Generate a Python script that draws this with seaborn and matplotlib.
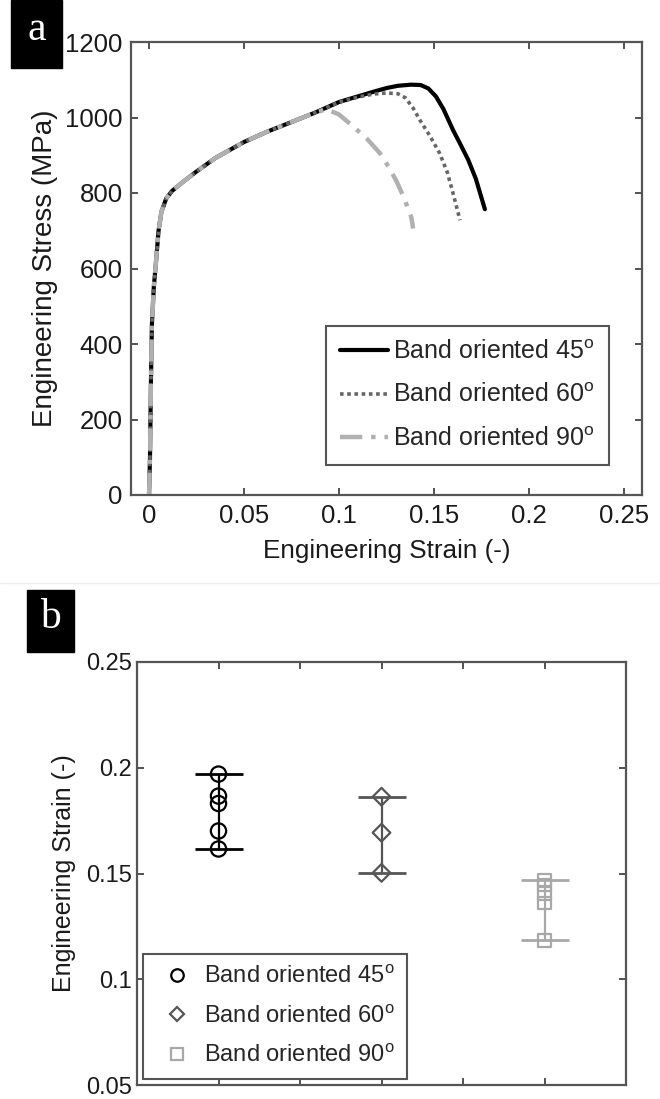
import numpy as np
import pandas as pd
import matplotlib
matplotlib.use("Agg")
import matplotlib.pyplot as plt
import seaborn as sns
from matplotlib.patches import Rectangle
from matplotlib.lines import Line2D
from matplotlib.ticker import FuncFormatter

# ---------------- data: panel (a) stress-strain curves ----------------
strain_45 = [0, 0.0005, 0.001, 0.0015, 0.0025, 0.0037, 0.005, 0.0065, 0.009, 0.012,
             0.018, 0.025, 0.035, 0.05, 0.062, 0.075, 0.087, 0.1, 0.11, 0.118,
             0.125, 0.131, 0.138, 0.143, 0.147, 0.151, 0.155, 0.160, 0.164, 0.168,
             0.172, 0.1768]
stress_45 = [0, 100, 300, 450, 550, 620, 700, 750, 785, 805,
             830, 857, 893, 935, 962, 988, 1012, 1041, 1056, 1068,
             1078, 1084, 1087, 1086, 1077, 1056, 1022, 967, 928, 888,
             838, 757]

strain_60 = [0, 0.0005, 0.001, 0.0015, 0.0025, 0.0037, 0.005, 0.0065, 0.009, 0.012,
             0.018, 0.025, 0.035, 0.05, 0.062, 0.075, 0.087, 0.1, 0.11, 0.118,
             0.125, 0.131, 0.135, 0.139, 0.1426, 0.148, 0.153, 0.157, 0.160, 0.1637]
stress_60 = [0, 100, 300, 450, 550, 620, 700, 750, 785, 805,
             830, 857, 893, 935, 962, 988, 1012, 1041, 1054, 1062,
             1065, 1063, 1052, 1025, 993, 950, 905, 855, 800, 728]

strain_90 = [0, 0.0005, 0.001, 0.0015, 0.0025, 0.0037, 0.005, 0.0065, 0.009, 0.012,
             0.018, 0.025, 0.035, 0.05, 0.062, 0.075, 0.087, 0.0935, 0.1, 0.1075,
             0.115, 0.1216, 0.126, 0.130, 0.134, 0.138, 0.139]
stress_90 = [0, 100, 300, 450, 550, 620, 700, 750, 785, 805,
             830, 857, 893, 935, 962, 988, 1012, 1022, 1008, 976,
             942, 905, 870, 834, 790, 737, 706]

curve_labels = ["Band oriented 45$^{\\mathrm{o}}$",
                "Band oriented 60$^{\\mathrm{o}}$",
                "Band oriented 90$^{\\mathrm{o}}$"]

# ---------------- data: panel (b) fracture strain per orientation ----------------
group_pos = [1, 3, 5]
strain_b_45 = [0.197, 0.1866, 0.1831, 0.1701, 0.1616]
strain_b_60 = [0.1863, 0.1693, 0.1503]
strain_b_90 = [0.147, 0.1445, 0.1405, 0.136, 0.1184]

x_ticks_a = [0, 0.05, 0.1, 0.15, 0.2, 0.25]
y_ticks_a = [0, 200, 400, 600, 800, 1000, 1200]
y_ticks_b = [0.05, 0.1, 0.15, 0.2, 0.25]
x_ticks_b = [1, 2, 3, 4, 5]

# ---------------- style ----------------
sns.set_theme(style="ticks")
plt.rcParams["font.family"] = ["Liberation Sans", "DejaVu Sans"]
plt.rcParams["mathtext.fontset"] = "custom"
plt.rcParams["mathtext.rm"] = "Liberation Sans"
plt.rcParams["mathtext.it"] = "Liberation Sans:italic"
plt.rcParams["axes.edgecolor"] = "#555555"
plt.rcParams["axes.linewidth"] = 1.6
plt.rcParams["xtick.color"] = "#444444"
plt.rcParams["ytick.color"] = "#444444"
plt.rcParams["xtick.labelcolor"] = "#1a1a1a"
plt.rcParams["ytick.labelcolor"] = "#1a1a1a"

fig = plt.figure(figsize=(6.6, 10.99), dpi=100)
W, H = 660.0, 1099.0

def fig_rect(l, t, r, b):
    return [l / W, 1 - b / H, (r - l) / W, (b - t) / H]

ax1 = fig.add_axes(fig_rect(131, 42, 642, 495))
ax2 = fig.add_axes(fig_rect(137, 662, 626, 1085))

# ---------------- panel (a) ----------------
sns.lineplot(x=strain_45, y=stress_45, ax=ax1, sort=False, color="black",
             lw=3.0, label=curve_labels[0])
sns.lineplot(x=strain_60, y=stress_60, ax=ax1, sort=False, color="#666666",
             lw=2.6, linestyle=(0, (1, 1)), label=curve_labels[1])
sns.lineplot(x=strain_90, y=stress_90, ax=ax1, sort=False, color="#b0b0b0",
             lw=3.2, linestyle=(0, (5, 2, 1, 2)), label=curve_labels[2])

ax1.set_xlim(-0.0095, 0.2595)
ax1.set_ylim(0, 1200)
ax1.set_xticks(x_ticks_a)
ax1.set_yticks(y_ticks_a)
fmt = FuncFormatter(lambda v, p: "%g" % v)
ax1.xaxis.set_major_formatter(fmt)
ax1.yaxis.set_major_formatter(fmt)
ax1.tick_params(direction="in", length=5, width=1.3, top=True, right=True,
                labelsize=18.5)
ax1.tick_params(axis="x", pad=6.5)
ax1.tick_params(axis="y", pad=6)
ax1.set_xlabel("Engineering Strain (-)", fontsize=18.8, labelpad=8, color="#1a1a1a")
ax1.set_ylabel("Engineering Stress (MPa)", fontsize=20, labelpad=5, color="#1a1a1a")
for s in ax1.spines.values():
    s.set_visible(True)

leg1 = ax1.legend(loc="lower right", bbox_to_anchor=(0.935, 0.066),
                  borderaxespad=0, fontsize=18,
                  frameon=True, fancybox=False,
                  framealpha=1, edgecolor="#555555", handlelength=1.92,
                  handletextpad=0.2, labelspacing=0.79, borderpad=0.56)
leg1.get_frame().set_linewidth(1.5)

# ---------------- panel (b) ----------------
groups = [(group_pos[0], strain_b_45, "o", "black", 11),
          (group_pos[1], strain_b_60, "D", "#555555", 9),
          (group_pos[2], strain_b_90, "s", "#a8a8a8", 9)]
for xp, vals, mk, col, ms in groups:
    lo, hi = min(vals), max(vals)
    ax2.errorbar([xp], [(lo + hi) / 2], yerr=[[(hi - lo) / 2], [(hi - lo) / 2]],
                 fmt="none", ecolor=col, elinewidth=1.6, capsize=17, capthick=2.0)
    sns.scatterplot(x=[xp] * len(vals), y=vals, ax=ax2, marker=mk, s=ms ** 2,
                    color=col, linewidth=1.6, legend=False)
    ax2.collections[-1].set_facecolor("none")
    ax2.collections[-1].set_edgecolor(col)

ax2.set_xlim(0, 6)
ax2.set_ylim(0.05, 0.25)
ax2.set_xticks(x_ticks_b)
ax2.set_xticklabels([])
ax2.set_yticks(y_ticks_b)
ax2.yaxis.set_major_formatter(fmt)
ax2.tick_params(direction="in", length=5, width=1.3, top=True, right=True,
                labelsize=17, pad=3.5)
ax2.set_ylabel("Engineering Strain (-)", fontsize=18, labelpad=7.5, color="#1a1a1a")
for s in ax2.spines.values():
    s.set_visible(True)

handles_b = [Line2D([], [], ls="none", marker="o", ms=9, mfc="none", mec="black", mew=1.6),
             Line2D([], [], ls="none", marker="D", ms=7, mfc="none", mec="#555555", mew=1.6),
             Line2D([], [], ls="none", marker="s", ms=8, mfc="none", mec="#a8a8a8", mew=1.6)]
leg2 = ax2.legend(handles_b, curve_labels, loc="lower left",
                  bbox_to_anchor=(0.012, 0.014), borderaxespad=0, fontsize=17,
                  frameon=True, fancybox=False, framealpha=1, edgecolor="#555555",
                  handlelength=1.9, handletextpad=0.2, labelspacing=0.74,
                  borderpad=0.5)
leg2.get_frame().set_linewidth(1.5)

# ---------------- panel letters ----------------
fig.add_artist(Rectangle((11 / W, 1 - 68 / H), 51 / W, 68 / H,
                         transform=fig.transFigure, color="black"))
fig.text(36.5 / W, 1 - 30 / H, "a", color="white", fontsize=30,
         family=["Liberation Serif", "DejaVu Serif"], ha="center", va="center")
fig.add_artist(Rectangle((27 / W, 1 - 652 / H), 47 / W, 62 / H,
                         transform=fig.transFigure, color="black"))
fig.text(50.5 / W, 1 - 618 / H, "b", color="white", fontsize=30,
         family=["Liberation Serif", "DejaVu Serif"], ha="center", va="center")

# faint separator between the two panels
fig.add_artist(Line2D([0, 1], [1 - 583 / H, 1 - 583 / H], transform=fig.transFigure,
                      color="#eeeeee", lw=1))

fig.savefig("out.png", dpi=100)
